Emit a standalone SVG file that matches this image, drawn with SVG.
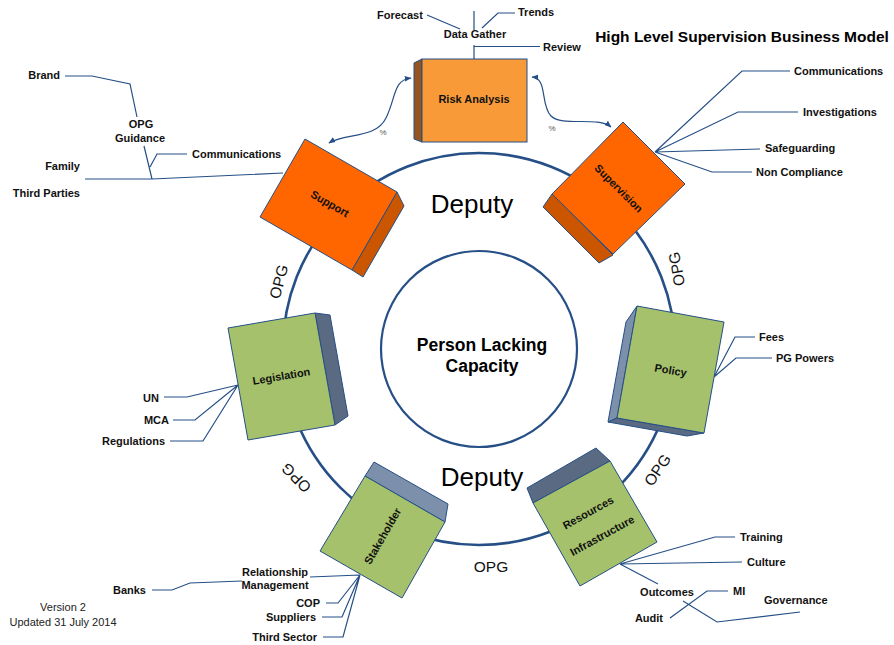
<svg xmlns="http://www.w3.org/2000/svg" width="894" height="645" viewBox="0 0 894 645">
<style>
.lbl{font-family:"Liberation Sans",Arial,sans-serif;font-size:11px;font-weight:bold;fill:#111}
.box{font-family:"Liberation Sans",Arial,sans-serif;font-size:11px;font-weight:bold;fill:#111}
.opg{font-family:"Liberation Sans",Arial,sans-serif;font-size:15.5px;fill:#111}
.dep{font-family:"Liberation Sans",Arial,sans-serif;font-size:26px;fill:#000}
.ln{fill:none;stroke:#254F86;stroke-width:1.2}
.ring{fill:none;stroke:#254F86;stroke-width:2.6}
.edge{stroke:#254F86;stroke-width:1}
.org{fill:#FF6600}
.orgd{fill:#CC5500}
.grn{fill:#A5C16B}
.sl1{fill:#7C90AC}
.sl2{fill:#5A6A82}
.pct{font-family:"Liberation Sans",Arial,sans-serif;font-size:8px;fill:#555}
</style>
<defs>
<marker id="ah" viewBox="0 0 10 10" refX="9" refY="5" markerWidth="7" markerHeight="7" orient="auto-start-reverse" markerUnits="userSpaceOnUse">
<path d="M0,1 L10,5 L0,9 z" fill="#254F86"/>
</marker>
</defs>
<rect width="894" height="645" fill="#fff"/>

<g id="ring">
<circle class="ring" cx="479" cy="349" r="196"/>
</g>

<g id="center">
<circle cx="479" cy="349" r="98" fill="#fff" stroke="#254F86" stroke-width="2.2"/>
<text x="482" y="351" text-anchor="middle" font-family="'Liberation Sans',Arial,sans-serif" font-size="17.5" font-weight="bold" fill="#000">Person Lacking</text>
<text x="482" y="372" text-anchor="middle" font-family="'Liberation Sans',Arial,sans-serif" font-size="17.5" font-weight="bold" fill="#000">Capacity</text>
</g>

<g id="ring-labels">
<text class="dep" x="472" y="213" text-anchor="middle">Deputy</text>
<text class="dep" x="482" y="486" text-anchor="middle">Deputy</text>
<text class="opg" transform="translate(284,283) rotate(-75)" text-anchor="middle">OPG</text>
<text class="opg" transform="translate(682,268) rotate(-100)" text-anchor="middle">OPG</text>
<text class="opg" transform="translate(300,474) rotate(-135)" text-anchor="middle">OPG</text>
<text class="opg" transform="translate(662,473) rotate(-56)" text-anchor="middle">OPG</text>
<text class="opg" x="491" y="572" text-anchor="middle">OPG</text>
</g>

<g id="title">
<text x="742" y="42" text-anchor="middle" font-family="'Liberation Sans',Arial,sans-serif" font-size="15.5" font-weight="bold" fill="#000">High Level Supervision Business Model</text>
</g>

<g id="version">
<text x="63" y="611" text-anchor="middle" font-family="'Liberation Sans',Arial,sans-serif" font-size="11" fill="#222">Version 2</text>
<text x="63" y="626" text-anchor="middle" font-family="'Liberation Sans',Arial,sans-serif" font-size="11" fill="#222">Updated 31 July 2014</text>
</g>

<g id="connectors">
<!-- Risk analysis / Data gather -->
<path class="ln" d="M474,11 L474,30 M474,45 L474,59 M474,46.5 L540,46.5 M427,15 L460,29 M482,28 L498,13 L515,13"/>
<!-- curved arrows -->
<path class="ln" d="M329,143 C345,133 376,139 386,118 C396,98 393,80 411,78" marker-start="url(#ah)" marker-end="url(#ah)"/>
<path class="ln" d="M532,77 C548,78 540,105 551,116 C562,127 598,116 611,127" marker-start="url(#ah)" marker-end="url(#ah)"/>
<!-- Support -->
<path class="ln" d="M65,76 L92,76 L130,84 L137,117 M144,146 L152,179 M150,167 L157,154 L187,154 M85,179 L152,179 L283,173"/>
<!-- Supervision -->
<path class="ln" d="M655,152 L742,71 L790,71 M655,152 L738,112 L798,112 M655,152 L760,149 M655,152 L712,172 L752,172"/>
<!-- Legislation -->
<path class="ln" d="M238,385 L187,397 L164,397 M238,385 L195,420 L173,420 M238,385 L203,441 L170,441"/>
<!-- Policy -->
<path class="ln" d="M714,377 L735,337 L755,337 M714,377 L736,358 L772,358"/>
<!-- Stakeholder -->
<path class="ln" d="M360,575 L310,577 M242,581 L190,583 L172,590 L152,590 M360,575 L338,603 L326,603 M360,575 L342,617 L322,617 M360,575 L343,637 L323,637"/>
<!-- Resources -->
<path class="ln" d="M620,564 L715,537 L735,537 M620,564 L742,562 M620,564 L658,584 M683,601 L717,622 L800,612 M670,618 L707,591 L728,591"/>
</g>

<g id="node-risk">
<polygon points="414,63 422,59 422,142 414,139" fill="#96551F" class="edge"/>
<rect x="422" y="59" width="105" height="83" fill="#F99A38" class="edge"/>
<text class="box" x="474" y="103" text-anchor="middle">Risk Analysis</text>
</g>
<g id="label-datagather">
<text class="lbl" x="475" y="38" text-anchor="middle">Data Gather</text>
<text class="lbl" x="377" y="19">Forecast</text>
<text class="lbl" x="518" y="16">Trends</text>
<text class="lbl" x="543" y="51">Review</text>
<text class="pct" x="383" y="135" text-anchor="middle">%</text>
<text class="pct" x="552" y="131" text-anchor="middle">%</text>
</g>

<g id="node-support">
<polygon points="397,192 404,206 363,277 352,270" class="orgd edge"/>
<polygon points="305,139 397,192 352,270 260,217" class="org edge"/>
<text class="box" transform="translate(328,207) rotate(30)" text-anchor="middle">Support</text>
<text class="lbl" x="192" y="158">Communications</text>
<text class="lbl" x="141" y="128" text-anchor="middle">OPG</text>
<text class="lbl" x="140" y="142" text-anchor="middle">Guidance</text>
<text class="lbl" x="60" y="79" text-anchor="end">Brand</text>
<text class="lbl" x="80" y="170" text-anchor="end">Family</text>
<text class="lbl" x="80" y="197" text-anchor="end">Third Parties</text>
</g>

<g id="node-supervision">
<polygon points="552,194 543,207 599,263 613,255" class="orgd edge"/>
<polygon points="623,122 685,184 613,254 552,194" class="org edge"/>
<text class="box" transform="translate(616,191) rotate(45)" text-anchor="middle">Supervision</text>
<text class="lbl" x="794" y="75">Communications</text>
<text class="lbl" x="803" y="116">Investigations</text>
<text class="lbl" x="765" y="152">Safeguarding</text>
<text class="lbl" x="756" y="176">Non Compliance</text>
</g>

<g id="node-legislation">
<polygon points="315,313 330,315 348,416 335,425" class="sl2 edge"/>
<polygon points="228,328 315,313 335,425 248,440" class="grn edge"/>
<text class="box" transform="translate(282,380) rotate(-9.5)" text-anchor="middle">Legislation</text>
<text class="lbl" x="159" y="402" text-anchor="end">UN</text>
<text class="lbl" x="169" y="424" text-anchor="end">MCA</text>
<text class="lbl" x="165" y="445" text-anchor="end">Regulations</text>
</g>

<g id="node-policy">
<polygon points="626,322 637,306 617,418 608,422" class="sl1 edge"/>
<polygon points="608,422 617,418 704,433 687,436" class="sl2 edge"/>
<polygon points="637,306 724,322 704,433 617,418" class="grn edge"/>
<text class="box" transform="translate(670,374) rotate(10)" text-anchor="middle">Policy</text>
<text class="lbl" x="759" y="341">Fees</text>
<text class="lbl" x="776" y="362">PG Powers</text>
</g>

<g id="node-stakeholder">
<polygon points="365,476 374,462 448,504 445,522" class="sl1 edge"/>
<polygon points="365,476 445,522 402,598 320,551" class="grn edge"/>
<text class="box" transform="translate(386,538) rotate(-60)" text-anchor="middle">Stakeholder</text>
<text class="lbl" x="275" y="576" text-anchor="middle">Relationship</text>
<text class="lbl" x="275" y="589" text-anchor="middle">Management</text>
<text class="lbl" x="146" y="594" text-anchor="end">Banks</text>
<text class="lbl" x="320" y="607" text-anchor="end">COP</text>
<text class="lbl" x="316" y="621" text-anchor="end">Suppliers</text>
<text class="lbl" x="317" y="641" text-anchor="end">Third Sector</text>
</g>

<g id="node-resources">
<polygon points="527,488 596,448 610,461 533,503" class="sl2 edge"/>
<polygon points="533,503 610,461 657,542 580,586" class="grn edge"/>
<text class="box" transform="translate(590,516) rotate(-29)" text-anchor="middle">Resources</text>
<text class="box" transform="translate(604,539) rotate(-29)" text-anchor="middle">Infrastructure</text>
<text class="lbl" x="740" y="541">Training</text>
<text class="lbl" x="747" y="566">Culture</text>
<text class="lbl" x="667" y="596" text-anchor="middle">Outcomes</text>
<text class="lbl" x="733" y="595">MI</text>
<text class="lbl" x="764" y="604">Governance</text>
<text class="lbl" x="663" y="622" text-anchor="end">Audit</text>
</g>
</svg>
